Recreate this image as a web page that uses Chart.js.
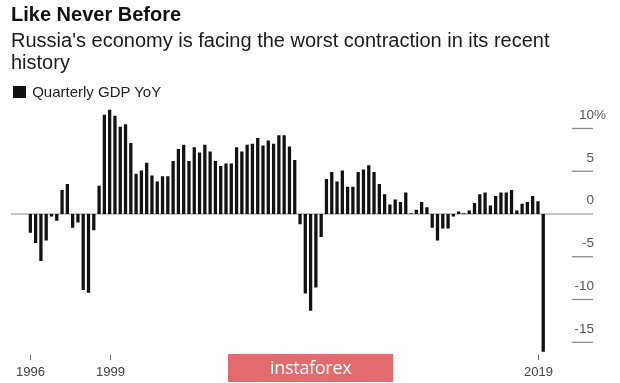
<!DOCTYPE html>
<html>
<head>
<meta charset="utf-8">
<script src="https://cdn.jsdelivr.net/npm/chart.js@4"></script>
<style>
  html, body { margin: 0; padding: 0; background: #fff; }
  #wrap { position: relative; width: 620px; height: 383px; overflow: hidden; font-family: "Liberation Sans", Arial, sans-serif; }
  #c { position: absolute; left: 0; top: 0; }
  .title { position: absolute; left: 11px; top: 3px; font-size: 20px; line-height: 23px; font-weight: bold; color: #111; white-space: nowrap; }
  .sub { position: absolute; left: 11px; top: 28.8px; font-size: 20px; line-height: 22px; color: #1a1a1a; width: 600px; }
  .legend { position: absolute; left: 13px; top: 83px; font-size: 15px; line-height: 17px; color: #222; white-space: nowrap; }
  .legend .sw { display: inline-block; width: 12.7px; height: 12.7px; background: #111; vertical-align: top; margin-top: 2.6px; margin-right: 6.5px; }
  .wm { position: absolute; left: 228px; top: 354.3px; width: 164.7px; height: 27.4px; background: rgba(224,96,99,0.93); }
  .wm span { position: absolute; left: 42px; top: 1px; font-family: "Open Sans", sans-serif; font-size: 18px; line-height: 24px; color: #fff; letter-spacing: -0.3px; }
</style>
</head>
<body>
<div id="wrap">
  <canvas id="c" width="620" height="383"></canvas>
  <div class="title">Like Never Before</div>
  <div class="sub">Russia's economy is facing the worst contraction in its recent history</div>
  <div class="legend"><span class="sw"></span>Quarterly GDP YoY</div>
  <div class="wm"><span>instaforex</span></div>
</div>
<script>
// Quarterly GDP YoY, %, 1996 Q1 .. 2020 Q2
const gdpYoY = [
  -2.2, -3.4, -5.5, -3.1,   // 1996
  -0.3, -0.8,  2.8,  3.5,   // 1997
  -1.6, -1.0, -8.9, -9.2,   // 1998
  -1.9,  3.3, 11.6, 12.2,   // 1999
  11.5, 10.2, 10.5,  8.3,   // 2000
   4.7,  5.1,  6.0,  4.5,   // 2001
   3.8,  4.4,  4.4,  6.2,   // 2002
   7.6,  8.1,  6.2,  7.8,   // 2003
   7.2,  8.1,  7.3,  6.2,   // 2004
   5.6,  5.9,  5.9,  7.8,   // 2005
   7.3,  8.1,  8.2,  8.9,   // 2006
   8.0,  8.6,  8.2,  9.2,   // 2007
   9.2,  7.9,  6.3, -1.2,   // 2008
  -9.3,-11.3, -8.6, -2.7,   // 2009
   4.1,  4.9,  3.8,  5.1,   // 2010
   3.2,  3.2,  4.9,  5.2,   // 2011
   5.7,  4.9,  3.5,  2.3,   // 2012
   1.1,  1.7,  1.4,  2.5,   // 2013
   0.1,  0.5,  1.4,  0.8,   // 2014
  -1.6, -3.1, -1.7, -1.7,   // 2015
  -0.3,  0.3,  0.1,  0.4,   // 2016
   1.3,  2.3,  2.5,  1.0,   // 2017
   2.1,  2.5,  2.5,  2.8,   // 2018
   0.4,  1.2,  1.4,  2.1,   // 2019
   1.5, -16.1               // 2020
];
const firstYear = 1996;
const categories = [];
for (let i = 0; i < gdpYoY.length; i++) {
  categories.push((firstYear + Math.floor(i / 4)) + ' Q' + (i % 4 + 1));
}
const xTickLabels = ['1996', '1999', '2019'];
const xTickCategories = ['1996 Q1', '1999 Q4', '2020 Q1'];
const yTickValues = [10, 5, 0, -5, -10, -15];
const yTickLabels = ['10', '5', '0', '-5', '-10', '-15'];

const axisPlugin = {
  id: 'bbgAxes',
  beforeDatasetsDraw(chart) {
    const ctx = chart.ctx, y = chart.scales.y;
    const y0 = y.getPixelForValue(0);
    ctx.save();
    ctx.strokeStyle = '#8a8a8a';
    ctx.lineWidth = 1;
    ctx.beginPath();
    ctx.moveTo(11, y0);
    ctx.lineTo(593, y0);
    ctx.stroke();
    ctx.restore();
  },
  afterDraw(chart) {
    const ctx = chart.ctx, x = chart.scales.x, y = chart.scales.y;
    ctx.save();
    // right value axis
    ctx.font = '13.5px "Liberation Sans", Arial, sans-serif';
    ctx.textBaseline = 'alphabetic';
    yTickValues.forEach((v, i) => {
      const py = y.getPixelForValue(v);
      if (v !== 0) {
        ctx.strokeStyle = '#8a8a8a';
        ctx.lineWidth = 1.3;
        ctx.beginPath();
        ctx.moveTo(572, py);
        ctx.lineTo(593, py);
        ctx.stroke();
      }
      ctx.fillStyle = '#555';
      ctx.textAlign = 'right';
      ctx.fillText(yTickLabels[i], 594, py - 9.5);
      if (i === 0) {
        ctx.textAlign = 'left';
        ctx.fillText('%', 594, py - 9.5);
      }
    });
    // bottom year axis
    ctx.font = '13px "Liberation Sans", Arial, sans-serif';
    ctx.textAlign = 'center';
    xTickCategories.forEach((cat, i) => {
      const px = Math.round(x.getPixelForValue(categories.indexOf(cat))) + 0.5;
      ctx.strokeStyle = '#666';
      ctx.lineWidth = 1;
      ctx.beginPath();
      ctx.moveTo(px, 355);
      ctx.lineTo(px, 360);
      ctx.stroke();
      ctx.fillStyle = '#444';
      ctx.fillText(xTickLabels[i], px, 376);
    });
    ctx.restore();
  }
};

new Chart(document.getElementById('c'), {
  type: 'bar',
  data: {
    labels: categories,
    datasets: [{
      label: 'Quarterly GDP YoY',
      data: gdpYoY,
      backgroundColor: '#111',
      borderWidth: 0,
      barPercentage: 0.62,
      categoryPercentage: 1.0
    }]
  },
  options: {
    responsive: false,
    devicePixelRatio: 1,
    animation: false,
    layout: { padding: { left: 27.7, right: 74.1, top: 107.1, bottom: 27.9 } },
    plugins: { legend: { display: false }, tooltip: { enabled: false }, title: { display: false } },
    scales: {
      x: { display: false, offset: true, grid: { display: false } },
      y: { display: false, min: -16.5, max: 12.5 }
    }
  },
  plugins: [axisPlugin]
});
</script>
</body>
</html>
